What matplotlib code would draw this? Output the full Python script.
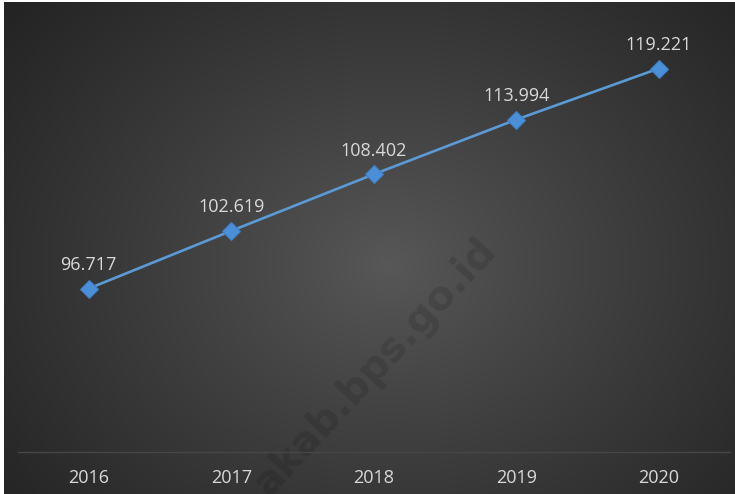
import numpy as np
import matplotlib
matplotlib.use("Agg")
import matplotlib.pyplot as plt
from matplotlib.patches import Rectangle

years = ["2016", "2017", "2018", "2019", "2020"]
values = [96.717, 102.619, 108.402, 113.994, 119.221]
value_labels = ["96.717", "102.619", "108.402", "113.994", "119.221"]

W, H = 735, 494
fig = plt.figure(figsize=(W / 100, H / 100), dpi=100)

# background radial gradient
bg = fig.add_axes([0, 0, 1, 1])
yy, xx = np.mgrid[0:H, 0:W]
cx, cy = 390, 265
r = np.sqrt(((xx - cx) / 520.0) ** 2 + ((yy - cy) / 420.0) ** 2)
t = np.clip(r / 0.95, 0, 1) ** 0.9
c0, c1 = 0x58 / 255, 0x24 / 255
img = c0 + (c1 - c0) * t
bg.imshow(np.dstack([img, img, img]), extent=[0, W, H, 0], aspect="auto")
bg.set_xlim(0, W)
bg.set_ylim(H, 0)
bg.axis("off")
# white border at top and left
bg.add_patch(Rectangle((0, 0), W, 2, color="white", lw=0))
bg.add_patch(Rectangle((0, 0), 4, H, color="white", lw=0))
# watermark
bg.text(375, 367, "akab.bps.go.id", rotation=47, ha="center", va="center",
        fontsize=29, fontweight="bold", family="DejaVu Sans",
        color="black", alpha=0.12, rotation_mode="anchor")

ax = fig.add_axes([17.5 / W, 42 / H, 712.5 / W, 440 / H])
ax.patch.set_alpha(0)
x = np.arange(len(years))
ax.plot(x, values, color="#5b9bd5", lw=1.9, marker="D", markersize=9,
        markerfacecolor="#4a8fd8", markeredgecolor="#3f7fc4", markeredgewidth=0.8,
        zorder=3)
for xi, v, lab in zip(x, values, value_labels):
    ax.annotate(lab, (xi, v), xytext=(0, 17), textcoords="offset points",
                ha="center", va="center", fontsize=13, family="Open Sans",
                color="#d9d9d9")

ax.set_xlim(-0.5, 4.5)
ax.set_ylim(80, 125)
ax.set_xticks(x)
ax.set_xticklabels(years, fontsize=13, family="Open Sans", color="#d9d9d9")
ax.set_yticks([])
ax.tick_params(axis="x", length=0, pad=12)
for s in ["top", "right", "left"]:
    ax.spines[s].set_visible(False)
ax.spines["bottom"].set_color("#474747")
ax.spines["bottom"].set_linewidth(1.0)

fig.savefig("out.png", dpi=100)
